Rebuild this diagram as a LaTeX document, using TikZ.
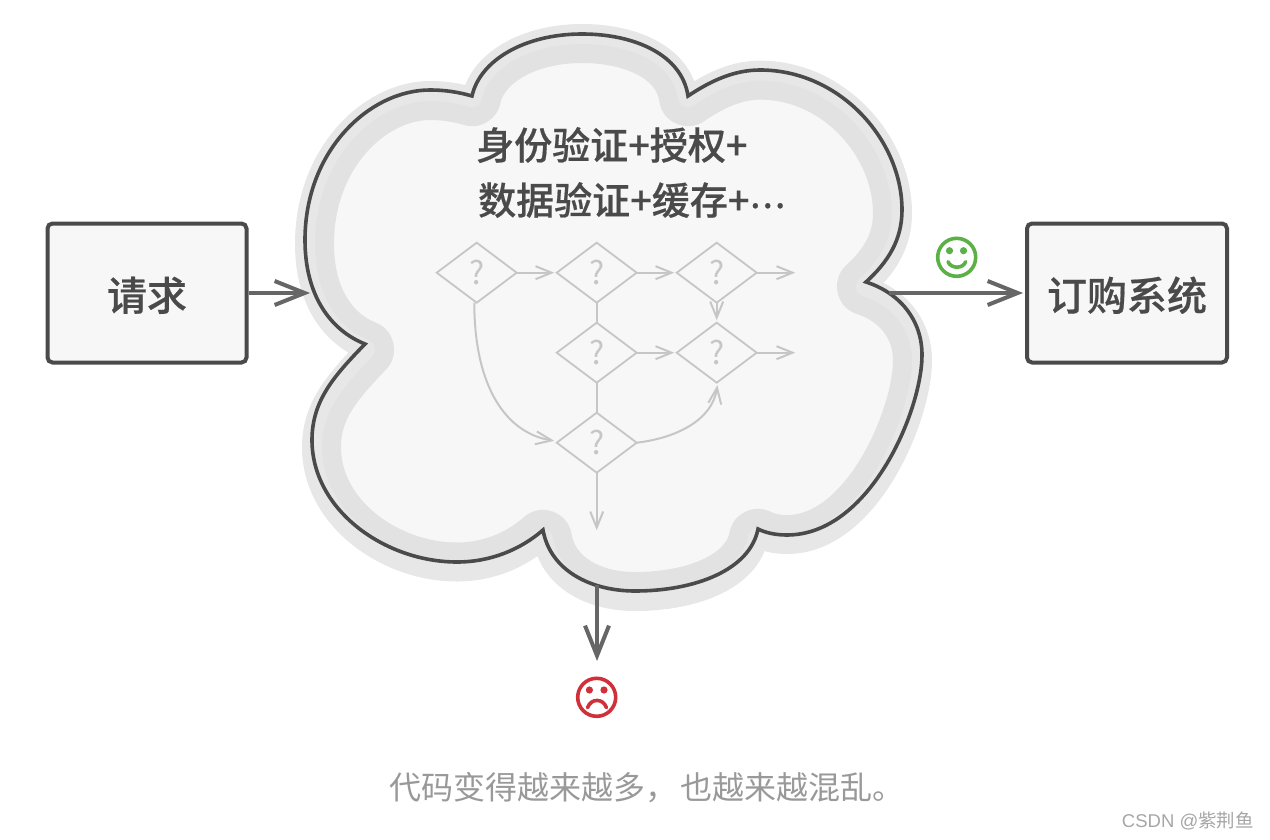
\documentclass[tikz,border=0pt]{standalone}
\usepackage{fontspec}
\setmainfont{Noto Sans CJK SC}[BoldFont={Noto Sans CJK SC Medium},BoldFeatures={FakeBold=0.5}]
\newfontfamily\latinfont{Liberation Sans}
\usetikzlibrary{positioning,shapes.geometric,arrows.meta}

\definecolor{inkdark}{HTML}{4A4A4A}
\definecolor{inkarrow}{HTML}{666666}
\definecolor{inkflow}{HTML}{C6C6C6}
\definecolor{bandlight}{HTML}{E7E7E7}
\definecolor{banddark}{HTML}{E2E2E2}
\definecolor{paper}{HTML}{F7F7F7}
\definecolor{happy}{HTML}{5CB146}
\definecolor{sad}{HTML}{D0303A}

\newcommand{\cloudline}{(472,96) .. controls (480,60) and (525,34) .. (582,34)
  .. controls (635,34) and (682,55) .. (688,96)
  .. controls (712,80) and (735,70) .. (760,70)
  .. controls (840,70) and (902,140) .. (902,210)
  .. controls (902,240) and (888,262) .. (866,282)
  .. controls (900,293) and (922,320) .. (922,355)
  .. controls (922,410) and (870,535) .. (787,535)
  .. controls (776,535) and (766,533) .. (758,529)
  .. controls (750,570) and (695,591) .. (635,591)
  .. controls (590,591) and (550,570) .. (543,530)
  .. controls (520,550) and (490,562) .. (457,562)
  .. controls (385,562) and (312,510) .. (312,440)
  .. controls (312,400) and (335,375) .. (365,344)
  .. controls (330,330) and (305,295) .. (305,240)
  .. controls (305,150) and (370,90) .. (430,90)
  .. controls (445,90) and (458,92) .. cycle}

\tikzset{
  servicebox/.style={draw=inkdark,fill=paper,line width=4pt,rounded corners=5pt,
    minimum height=139pt,inner sep=0pt,text height=40pt,text depth=5pt,
    font=\fontsize{40}{48}\selectfont\bfseries,text=inkdark},
  headline/.style={inner sep=0pt,anchor=west,font=\fontsize{38}{46}\selectfont\bfseries,text=inkdark},
  check/.style={diamond,aspect=1.333,draw=inkflow,line width=1.8pt,minimum width=80pt,minimum height=60pt,
    inner sep=0pt,outer sep=0pt,text=inkflow,font=\fontsize{32}{38}\selectfont},
  flow/.style={draw=inkflow,line width=2pt},
  flowarrow/.style={flow,-{Straight Barb[length=16pt,width=13pt,line width=2pt]},shorten >=2.5pt},
  bigarrow/.style={draw=inkarrow,line width=4pt,-{Straight Barb[length=30pt,width=24pt,line width=4pt]}},
  faceline/.style={line width=3.6pt,line cap=round},
  bandshift/.style={shift={(0,-0.612)},yscale=1.018},
}

\begin{document}
\begin{tikzpicture}[x=1pt,y=-1pt,node distance=40pt]
  \useasboundingbox (0,0) rectangle (1270,840);

  % cloud
  \begin{scope}[bandshift]
    \fill[paper] \cloudline;
    \begin{scope}
      \clip \cloudline;
      \draw[banddark,line width=58pt,line join=round] \cloudline;
    \end{scope}
    \draw[bandlight,line width=20pt,line join=round] \cloudline;
  \end{scope}
  \draw[inkdark,line width=3.6pt] \cloudline;

  \node[servicebox,minimum width=199pt] (request) at (147,293) {请求};
  \node[servicebox,minimum width=200pt] (ordering) at (1127,293) {订购系统};

  \node[headline] (authtext) at (476,145) {身份验证+授权+};
  \node[headline] (datatext) at (478,200) {数据验证+缓存+\raisebox{6.5pt}{\fontsize{33}{40}\selectfont ⋯}};

  % checks
  \node[check] (q1) at (476.7,272.7) {?};
  \node[check,right=of q1] (q2) {?};
  \node[check,right=of q2] (q3) {?};
  \node[check,below=20pt of q2] (q4) {?};
  \node[check,right=of q4] (q5) {?};
  \node[check,below=30pt of q4] (q6) {?};
  \coordinate[right=41pt of q3] (q3end);
  \coordinate[right=41pt of q5] (q5end);
  \coordinate[below=60pt of q6] (q6end);

  \draw[flowarrow] (q1) -- (q2);
  \draw[flowarrow] (q2) -- (q3);
  \draw[flowarrow] (q3) -- (q3end);
  \draw[flowarrow] (q3) -- (q5);
  \draw[flowarrow] (q4) -- (q5);
  \draw[flowarrow] (q5) -- (q5end);
  \draw[flowarrow] (q6) -- (q6end);
  \draw[flow] (q2) -- (q4);
  \draw[flow] (q4) -- (q6);
  \draw[flowarrow] ([xshift=-2.4pt]q1.south) .. controls +(0,-85pt) and +(-50pt,8pt) .. ([yshift=1.5pt]q6.west);
  \draw[flowarrow] (q6.east) .. controls +(42pt,5pt) and +(-5pt,-36pt) .. ([xshift=1pt]q5.south);

  % connectors to the cloud
  \coordinate (cloudin) at (310,293);
  \coordinate (cloudout) at (889,293);
  \coordinate (cloudbottom) at (597,585);
  \coordinate (sadtip) at (597,661);
  \draw[bigarrow] (request.east) -- (cloudin);
  \draw[bigarrow,shorten >=2pt] (cloudout) -- (ordering.west);
  \draw[bigarrow] (cloudbottom) -- (sadtip);

  % faces
  \draw[happy,line width=3.6pt] (956.7,257.3) circle (19pt);
  \fill[happy] (949.5,250.7) circle (3.6pt) (963.5,250.7) circle (3.6pt);
  \draw[happy,faceline] (948,261.7) .. controls (951,269) and (963,269) .. (965.7,261.7);
  \draw[sad,line width=3.6pt] (596.7,697.3) circle (19pt);
  \fill[sad] (589.4,690) circle (3.6pt) (604,690) circle (3.6pt);
  \draw[sad,faceline] (587.5,707.7) .. controls (591,698) and (603,698) .. (606.5,707.7);

  \node[text=black!40,anchor=west,inner sep=0pt,font=\fontsize{32}{38}\selectfont] (caption) at (389,788) {代码变得越来越多，\kern3pt 也越来越混乱。};
  \node[text=black!35,anchor=east,inner sep=0pt,font=\fontsize{18.5}{22}\selectfont] (mark) at (1254,821) {{\latinfont CSDN @}紫荆鱼};
\end{tikzpicture}
\end{document}
